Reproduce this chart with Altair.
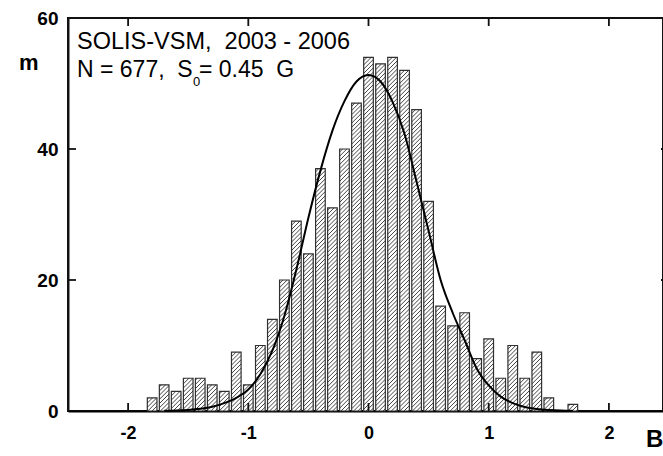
import math
import altair as alt
import pandas as pd

# ---- data ----
bin_center = [-1.8, -1.7, -1.6, -1.5, -1.4, -1.3, -1.2, -1.1, -1.0, -0.9,
              -0.8, -0.7, -0.6, -0.5, -0.4, -0.3, -0.2, -0.1, 0.0, 0.1,
              0.2, 0.3, 0.4, 0.5, 0.6, 0.7, 0.8, 0.9, 1.0, 1.1,
              1.2, 1.3, 1.4, 1.5, 1.6, 1.7]
bin_count = [2, 4, 3, 5, 5, 4, 3, 9, 4, 10,
             14, 20, 29, 24, 37, 31, 40, 47, 54, 53,
             54, 52, 46, 32, 16, 13, 15, 8, 11, 5,
             10, 5, 9, 2, 0, 1]

curve_x = [-1.7, -1.6, -1.5, -1.4, -1.3, -1.2, -1.1, -1.0, -0.9, -0.8,
           -0.7, -0.6, -0.5, -0.4, -0.3, -0.2, -0.1, 0.0, 0.1, 0.2,
           0.3, 0.4, 0.5, 0.6, 0.7, 0.8, 0.9, 1.0, 1.1, 1.2,
           1.3, 1.4, 1.5, 1.6, 1.7]
curve_y = [0.03, 0.07, 0.17, 0.35, 0.65, 1.2, 2.0, 3.3, 5.6, 9.2,
           14.5, 21.6, 29.5, 36.7, 42.8, 47.3, 50.3, 51.3, 50.3, 47.2,
           42.3, 35.0, 27.5, 20.0, 15.0, 10.8, 6.5, 3.9, 2.2, 1.2,
           0.6, 0.3, 0.15, 0.07, 0.03]

x_ticks = [-2, -1, 0, 1, 2]
y_ticks = [0, 20, 40, 60]

NB = "\u00a0"
title_line1 = f"SOLIS-VSM,{NB} 2003 - 2006"
title_line2a = f"N = 677,{NB} S"
title_sub = "0"
title_line2b = f"= 0.45{NB} G"

# ---- layout ----
W, H = 595, 393
X_DOM = [-2.5, 2.45]
Y_DOM = [0, 60]
PXX = W / (X_DOM[1] - X_DOM[0])
PXY = H / (Y_DOM[1] - Y_DOM[0])
HALF = 0.04          # half bar width (data units)
HATCH = 4.2          # hatch spacing (px)
FONT = "Liberation Sans"
INK = "#111111"

bars = pd.DataFrame({"c": bin_center, "n": bin_count})
bars = bars[bars.n > 0].reset_index(drop=True)
bars["lo"] = bars.c - HALF
bars["hi"] = bars.c + HALF

# hatch segments clipped to each bar
rows = []
for c, n in zip(bars.c, bars.n):
    L = c - HALF
    Lpx = (L - X_DOM[0]) * PXX
    Wpx = 2 * HALF * PXX
    Hpx = n * PXY
    k0 = math.ceil((Lpx - Hpx) / HATCH)
    k1 = math.floor((Lpx + Wpx) / HATCH)
    for k in range(k0, k1 + 1):
        b = Lpx - k * HATCH
        X0 = max(0.0, -b)
        X1 = min(Wpx, Hpx - b)
        if X1 - X0 > 0.3:
            rows.append({"hx": L + X0 / PXX, "hy": (X0 + b) / PXY,
                         "hx2": L + X1 / PXX, "hy2": (X1 + b) / PXY})
hatch = pd.DataFrame(rows)

xs = alt.Scale(domain=X_DOM, nice=False, zero=False)
ys = alt.Scale(domain=Y_DOM, nice=False, zero=False)

x_axis = alt.Axis(values=x_ticks, labelExpr="'' + datum.value", ticks=False,
                  grid=False, title=None)
y_axis = alt.Axis(values=y_ticks, labelExpr="'' + datum.value", ticks=False,
                  grid=False, title=None)

def X(field):
    return alt.X(field, scale=xs, axis=x_axis)

def Y(field):
    return alt.Y(field, scale=ys, axis=y_axis)

bar_fill = alt.Chart(bars).mark_rect(fill="white", strokeWidth=0).encode(
    x=X("lo:Q"), x2="hi:Q", y=Y("n:Q"), y2=alt.datum(0))

hatch_layer = alt.Chart(hatch).mark_rule(color="#222222", strokeWidth=0.85).encode(
    x=X("hx:Q"), x2="hx2:Q", y=Y("hy:Q"), y2="hy2:Q")

bar_edge = alt.Chart(bars).mark_rect(fill=None, stroke="#303030", strokeWidth=1.2).encode(
    x=X("lo:Q"), x2="hi:Q", y=Y("n:Q"), y2=alt.datum(0))

curve = alt.Chart(pd.DataFrame({"cx": curve_x, "cy": curve_y})).mark_line(
    color="black", strokeWidth=2, interpolate="monotone").encode(
    x=X("cx:Q"), y=Y("cy:Q"))

# frame lines (top and left) drawn as marks, so they sit above everything
frame = pd.DataFrame({"fx": [X_DOM[0], X_DOM[0]], "fx2": [X_DOM[1], X_DOM[0]],
                      "fy": [Y_DOM[1], Y_DOM[0]], "fy2": [Y_DOM[1], Y_DOM[1]]})
frame_layer = alt.Chart(frame).mark_rule(stroke=INK, strokeWidth=2).encode(
    x=X("fx:Q"), x2="fx2:Q", y=Y("fy:Q"), y2="fy2:Q")

TICK = 8
xt = pd.DataFrame({"tv": x_ticks, "ya": [Y_DOM[0]] * 5,
                   "yb": [Y_DOM[0] + TICK / PXY] * 5,
                   "yc": [Y_DOM[1]] * 5, "yd": [Y_DOM[1] - TICK / PXY] * 5})
bottom_ticks = alt.Chart(xt).mark_rule(stroke=INK, strokeWidth=1.8).encode(
    x=X("tv:Q"), y=Y("ya:Q"), y2="yb:Q")
top_ticks = alt.Chart(xt).mark_rule(stroke=INK, strokeWidth=1.8).encode(
    x=X("tv:Q"), y=Y("yc:Q"), y2="yd:Q")
yt = pd.DataFrame({"uv": [20, 40], "xa": [X_DOM[0]] * 2,
                   "xb": [X_DOM[0] + TICK / PXX] * 2,
                   "xc": [X_DOM[1]] * 2, "xd": [X_DOM[1] - 2 / PXX] * 2})
left_ticks = alt.Chart(yt).mark_rule(stroke=INK, strokeWidth=1.8).encode(
    y=Y("uv:Q"), x=X("xa:Q"), x2="xb:Q")
right_ticks = alt.Chart(yt).mark_rule(stroke=INK, strokeWidth=1.8).encode(
    y=Y("uv:Q"), x=X("xc:Q"), x2="xd:Q")

def label(text, x, y, size, weight="normal"):
    return alt.Chart(pd.DataFrame({"t": [text]})).mark_text(
        align="left", baseline="alphabetic", font=FONT, fontSize=size,
        fontWeight=weight, color="black").encode(
        text="t:N", x=alt.value(x), y=alt.value(y))

texts = [
    label(title_line1, 9, 31, 23.5),
    label(title_line2a, 9, 59, 23),
    label(title_sub, 125, 68, 13),
    label(title_line2b, 131, 59, 23),
    label("m", -49, 52, 22, "bold"),
    label("B", 578, 429, 24, "bold"),
]

chart = alt.layer(
    bar_fill, hatch_layer, bar_edge, curve, frame_layer,
    bottom_ticks, top_ticks, left_ticks, right_ticks, *texts
).properties(
    width=W, height=H,
    autosize=alt.AutoSizeParams(type="none"),
    padding={"left": 68, "top": 18, "right": 0, "bottom": 45},
    background="white",
).configure_view(stroke=INK, strokeWidth=2).configure_axisX(
    domainColor="black", domainWidth=2.2, labelFont=FONT, labelFontSize=18,
    labelFontWeight="bold", labelColor="black", labelPadding=13, tickSize=0,
).configure_axisY(
    domainColor=INK, domainWidth=2, labelFont=FONT, labelFontSize=19,
    labelFontWeight="bold", labelColor="black", labelPadding=10, tickSize=0,
)

chart.save("out.html", embed_options={"renderer": "svg", "actions": False})
